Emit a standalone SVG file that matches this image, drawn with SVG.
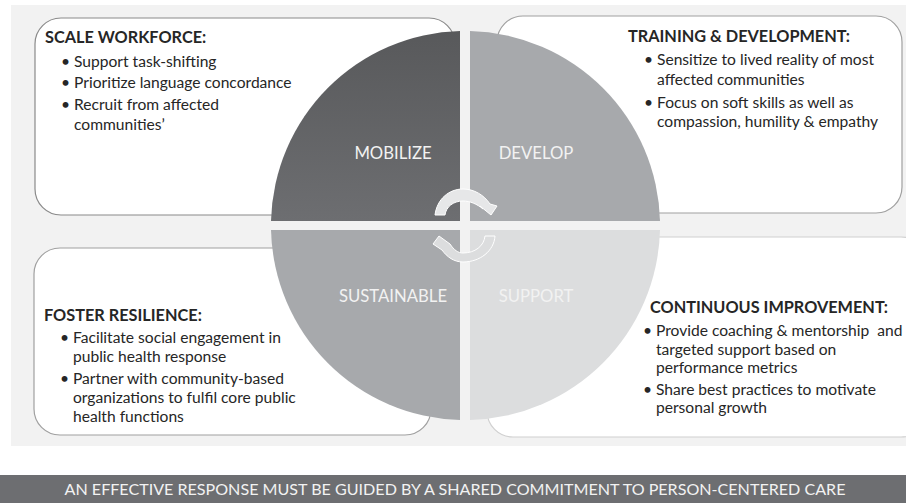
<svg xmlns="http://www.w3.org/2000/svg" width="906" height="503" viewBox="0 0 906 503">
<style>
text{font-family:"Lato","Carlito","Open Sans",sans-serif;fill:#262626;white-space:pre}
.h{font-size:16.3px;font-weight:700}
.b{font-size:15.6px}
.q{font-size:16.7px;fill:#f2f2f2;text-anchor:middle}
.box{fill:#fff;stroke-width:1.2}
.arr{stroke:#fff;stroke-width:1}
</style>
<defs>
<linearGradient id="g1" x1="0" y1="0" x2="0" y2="1"><stop offset="0" stop-color="#58595b"/><stop offset="1" stop-color="#6d6e71"/></linearGradient>
</defs>
<rect x="11" y="5" width="895" height="441" fill="#f2f2f2"/>
<g id="box-scale"><rect class="box" x="35" y="18" width="420" height="197" rx="26" stroke="#8a8a8a"/>
<text class="h" x="45" y="43">SCALE WORKFORCE:</text>
<text class="b" x="61" y="67">•</text><text class="b" x="74" y="67">Support task-shifting</text>
<text class="b" x="61" y="88">•</text><text class="b" x="74" y="88">Prioritize language concordance</text>
<text class="b" x="61" y="110">•</text><text class="b" x="74" y="110">Recruit from affected</text>
<text class="b" x="74" y="130">communities’</text></g>
<g id="box-training"><rect class="box" x="497" y="16" width="405" height="197" rx="26" stroke="#a0a0a0"/>
<text class="h" x="628" y="42">TRAINING &amp; DEVELOPMENT:</text>
<text class="b" x="644" y="65">•</text><text class="b" x="657" y="65">Sensitize to lived reality of most</text>
<text class="b" x="657" y="85">affected communities</text>
<text class="b" x="644" y="108">•</text><text class="b" x="657" y="108">Focus on soft skills as well as</text>
<text class="b" x="657" y="127">compassion, humility &amp; empathy</text></g>
<g id="box-foster"><rect class="box" x="34" y="248" width="397" height="187" rx="26" stroke="#a0a0a0"/>
<text class="h" x="44" y="321">FOSTER RESILIENCE:</text>
<text class="b" x="60" y="343">•</text><text class="b" x="73" y="343">Facilitate social engagement in</text>
<text class="b" x="73" y="362">public health response</text>
<text class="b" x="60" y="384">•</text><text class="b" x="73" y="384">Partner with community-based</text>
<text class="b" x="73" y="403">organizations to fulfil core public</text>
<text class="b" x="73" y="422">health functions</text></g>
<g id="box-continuous"><rect class="box" x="487" y="237" width="440" height="200" rx="26" stroke="#d0d0d0"/>
<text class="h" x="650" y="313">CONTINUOUS IMPROVEMENT:</text>
<text class="b" x="643" y="336">•</text><text class="b" x="656" y="336">Provide coaching &amp; mentorship  and</text>
<text class="b" x="656" y="355">targeted support based on</text>
<text class="b" x="656" y="373">performance metrics</text>
<text class="b" x="643" y="395">•</text><text class="b" x="656" y="395">Share best practices to motivate</text>
<text class="b" x="656" y="413">personal growth</text></g>
<g id="mobilize"><path d="M460 31V221H271A194 195 0 0 1 460 31Z" fill="url(#g1)"/><text class="q" x="393" y="159">MOBILIZE</text></g>
<g id="develop"><path d="M470 31V221H660A195 195 0 0 0 470 31Z" fill="#a7a9ac"/><text class="q" x="536" y="159">DEVELOP</text></g>
<g id="sustainable"><path d="M460 420V230H271A194 195 0 0 0 460 420Z" fill="#a7a9ac"/><text class="q" x="393" y="302">SUSTAINABLE</text></g>
<g id="support"><path d="M470 420V230H660A195 195 0 0 1 470 420Z" fill="#dcddde"/><text class="q" x="536" y="302">SUPPORT</text></g>
<g id="connectors">
<path class="arr" fill="#e6e7e8" d="M435 215C437 199 449 189 463 189C474 189 484 195 490 204L497 206L491 215L480 206L483 209C477 204 470 201 463 201C453 201 446 207 445 215Z"/>
<path class="arr" fill="#dcddde" d="M495 236C494 251 480 262 463 262C454 262 447 257 442 250L433 244L439 236L450 244C454 250 458 253 463 253C475 253 484 246 485 236Z"/>
</g>
<g id="banner"><rect x="0" y="475" width="906" height="28" fill="#6d6e71"/>
<text x="455" y="495" text-anchor="middle" style="font-size:16.1px;fill:#f2f2f2">AN EFFECTIVE RESPONSE MUST BE GUIDED BY A SHARED COMMITMENT TO PERSON-CENTERED CARE</text></g>
</svg>
